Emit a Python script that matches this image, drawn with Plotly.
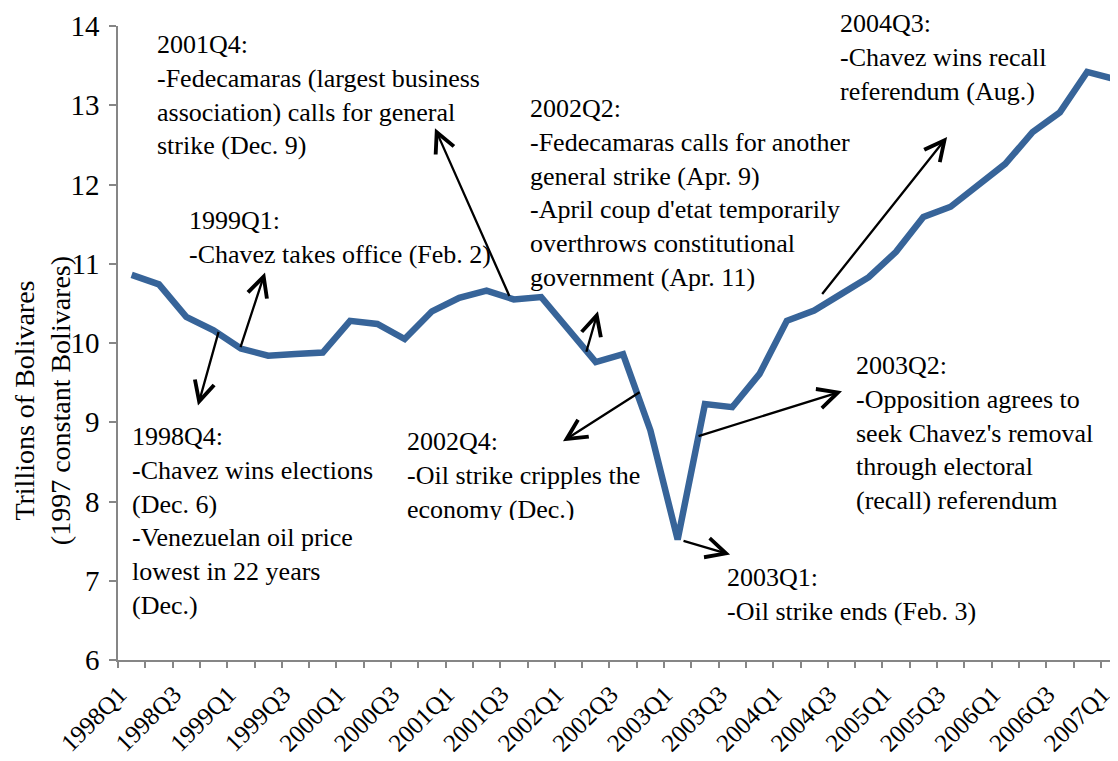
import plotly.graph_objects as go

# ---------------- data ----------------
quarters = [f"{y}Q{q}" for y in range(1998, 2008) for q in range(1, 5)][:37]
gdp = [10.86, 10.74, 10.33, 10.16, 9.93, 9.84, 9.86, 9.88,
       10.28, 10.24, 10.05, 10.40, 10.57, 10.66, 10.55, 10.58,
       10.17, 9.76, 9.86, 8.90, 7.52, 9.23, 9.19, 9.61,
       10.28, 10.41, 10.62, 10.83, 11.15, 11.59, 11.72, 12.00,
       12.26, 12.66, 12.91, 13.42, 13.33]
tick_idx = list(range(0, len(quarters), 2))
tick_labels = [quarters[i] for i in tick_idx]

# annotation text blocks: (x index, y value, y anchor, text, clip height)
notes = [
    (0.86, 13.97, "top", "2001Q4:<br>-Fedecamaras (largest business<br>association) calls for general<br>strike (Dec. 9)", None),
    (2.03, 11.75, "top", "1999Q1:<br>-Chavez takes office (Feb. 2)", None),
    (14.52, 13.165, "top", "2002Q2:<br>-Fedecamaras calls for another<br>general strike (Apr. 9)<br>-April coup d'etat temporarily<br>overthrows constitutional<br>government (Apr. 11)", None),
    (25.87, 12.97, "bottom", "2004Q3:<br>-Chavez wins recall<br>referendum (Aug.)", None),
    (-0.06, 9.03, "top", "1998Q4:<br>-Chavez wins elections<br>(Dec. 6)<br>-Venezuelan oil price<br>lowest in 22 years<br>(Dec.)", None),
    (10.01, 8.96, "top", "2002Q4:<br>-Oil strike cripples the<br>economy (Dec.)", 93),
    (26.46, 9.93, "top", "2003Q2:<br>-Opposition agrees to<br>seek Chavez's removal<br>through electoral<br>(recall) referendum", None),
    (21.73, 7.25, "top", "2003Q1:<br>-Oil strike ends (Feb. 3)", None),
]

# arrows: (tail x, tail y, head x, head y)
arrows = [
    (13.86, 10.575, 11.11, 12.71),
    (3.97, 9.93, 4.885, 10.89),
    (3.20, 10.16, 2.43, 9.21),
    (16.64, 9.87, 17.08, 10.40),
    (18.66, 9.39, 15.80, 8.76),
    (20.16, 7.51, 21.92, 7.33),
    (20.71, 8.82, 26.02, 9.39),
    (25.25, 10.60, 29.87, 12.60),
]

FONT = "Liberation Serif"
AXIS = "#868686"
LABEL_SHIFT = -0.45  # Excel-style placement of rotated category labels

fig = go.Figure()
fig.add_trace(go.Scatter(
    x=list(range(len(quarters))), y=gdp, mode="lines",
    line=dict(color="#376499", width=6.5), hoverinfo="skip", showlegend=False,
))

anns = []
for x, y, ya, txt, h in notes:
    a = dict(x=x, y=y, xref="x", yref="y", text=txt, showarrow=False,
             xanchor="left", yanchor=ya, align="left",
             font=dict(family=FONT, size=26, color="black"))
    if h:
        a.update(height=h, valign="top")
    anns.append(a)
for tx, ty, hx, hy in arrows:
    anns.append(dict(x=hx, y=hy, ax=tx, ay=ty, xref="x", yref="y", axref="x", ayref="y",
                     text="", showarrow=True, arrowhead=5, arrowsize=1.7, arrowwidth=2.3,
                     arrowcolor="black", standoff=0, startstandoff=0))
anns.append(dict(x=-0.0755, y=0.409, xref="paper", yref="paper",
                 text="Trillions of Bolivares<br>(1997 constant Bolivares)",
                 textangle=-90, showarrow=False, xanchor="center", yanchor="middle",
                 font=dict(family=FONT, size=28, color="black")))

fig.update_layout(
    width=1110, height=753,
    margin=dict(l=110, r=0, t=18, b=101),
    paper_bgcolor="white", plot_bgcolor="white",
    font=dict(family=FONT, color="black"),
    annotations=anns,
    xaxis=dict(range=[-0.5, 36.13], tickmode="array",
               tickvals=[i + LABEL_SHIFT for i in tick_idx], ticktext=tick_labels,
               tickangle=-45, tickfont=dict(family=FONT, size=25, color="black"),
               automargin=False, ticklabelstandoff=2,
               showline=True, linecolor=AXIS, linewidth=1.5, showgrid=False, zeroline=False,
               ticks="outside", ticklen=6, tickcolor="rgba(0,0,0,0)",
               minor=dict(tick0=-0.5, dtick=1, ticks="outside", ticklen=6,
                          tickcolor=AXIS, tickwidth=1.5, showgrid=False)),
    yaxis=dict(range=[6, 14], dtick=1, tickfont=dict(family=FONT, size=29, color="black"),
               automargin=False, ticklabelstandoff=4,
               showline=True, linecolor=AXIS, linewidth=1.5, showgrid=False, zeroline=False,
               ticks="outside", ticklen=7, tickcolor=AXIS, tickwidth=1.5),
)

fig.write_html("out.html")
